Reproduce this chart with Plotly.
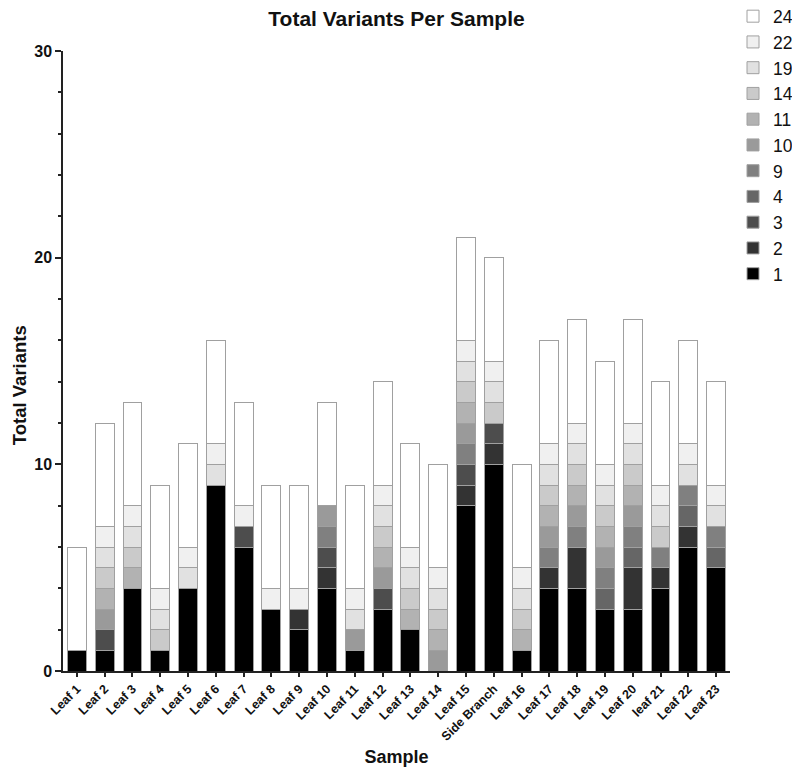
import plotly.graph_objects as go

samples = ["Leaf 1", "Leaf 2", "Leaf 3", "Leaf 4", "Leaf 5", "Leaf 6", "Leaf 7", "Leaf 8",
           "Leaf 9", "Leaf 10", "Leaf 11", "Leaf 12", "Leaf 13", "Leaf 14", "Leaf 15",
           "Side Branch", "Leaf 16", "Leaf 17", "Leaf 18", "Leaf 19", "Leaf 20", "leaf 21",
           "Leaf 22", "Leaf 23"]

s1 = [1, 1, 4, 1, 4, 9, 6, 3, 2, 4, 1, 3, 2, 0, 8, 10, 1, 4, 4, 3, 3, 4, 6, 5]
s2 = [0, 0, 0, 0, 0, 0, 0, 0, 1, 1, 0, 0, 0, 0, 1, 1, 0, 1, 2, 0, 2, 1, 1, 0]
s3 = [0, 1, 0, 0, 0, 0, 1, 0, 0, 1, 0, 1, 0, 0, 1, 1, 0, 0, 0, 0, 0, 0, 0, 0]
s4 = [0, 0, 0, 0, 0, 0, 0, 0, 0, 0, 0, 0, 0, 0, 0, 0, 0, 0, 0, 1, 1, 0, 1, 1]
s9 = [0, 0, 0, 0, 0, 0, 0, 0, 0, 1, 0, 0, 0, 0, 1, 0, 0, 1, 1, 1, 1, 1, 1, 1]
s10 = [0, 1, 0, 0, 0, 0, 0, 0, 0, 1, 1, 1, 0, 1, 1, 0, 0, 1, 1, 1, 1, 0, 0, 0]
s11 = [0, 1, 1, 0, 0, 0, 0, 0, 0, 0, 0, 1, 1, 1, 1, 0, 1, 1, 1, 1, 1, 0, 0, 0]
s14 = [0, 1, 1, 1, 0, 0, 0, 0, 0, 0, 0, 1, 1, 1, 1, 1, 1, 1, 1, 1, 1, 1, 0, 0]
s19 = [0, 1, 1, 1, 1, 1, 0, 0, 0, 0, 1, 1, 1, 1, 1, 1, 1, 1, 1, 1, 1, 1, 1, 1]
s22 = [0, 1, 1, 1, 1, 1, 1, 1, 1, 0, 1, 1, 1, 1, 1, 1, 1, 1, 1, 1, 1, 1, 1, 1]
s24 = [5, 5, 5, 5, 5, 5, 5, 5, 5, 5, 5, 5, 5, 5, 5, 5, 5, 5, 5, 5, 5, 5, 5, 5]

series_names = ["1", "2", "3", "4", "9", "10", "11", "14", "19", "22", "24"]
series_values = [s1, s2, s3, s4, s9, s10, s11, s14, s19, s22, s24]
series_colors = ["#000000", "#333333", "#4d4d4d", "#666666", "#808080", "#9a9a9a",
                 "#b2b2b2", "#cacaca", "#e1e1e1", "#f0f0f0", "#ffffff"]

fig = go.Figure()
for name, vals, col in zip(series_names, series_values, series_colors):
    fig.add_trace(go.Bar(
        x=samples, y=vals, name=name,
        marker=dict(color=col, line=dict(color="#a0a0a0", width=1)),
    ))

font_family = "Liberation Sans, Arial, sans-serif"

# the page body adds an 8px offset, so the figure is sized 792x762
fig.update_layout(
    barmode="stack",
    bargap=0.32,
    width=792, height=762,
    paper_bgcolor="white", plot_bgcolor="white",
    margin=dict(l=55, r=70, t=43, b=99, autoexpand=False),
    font=dict(family=font_family, color="#111111"),
    title=dict(text="<b>Total Variants Per Sample</b>", x=0.5, xref="paper",
               y=1 - 11 / 762, yanchor="middle", font=dict(size=21, color="#111111")),
    legend=dict(traceorder="reversed", x=1.0045, xanchor="left", y=1.085, yanchor="top",
                font=dict(size=17.5, color="#111111"), bgcolor="rgba(0,0,0,0)",
                itemclick=False),
    xaxis=dict(
        showline=True, linecolor="#222222", linewidth=1.5,
        ticks="outside", ticklen=4, tickcolor="#222222", tickwidth=1.5,
        tickangle=-45, tickfont=dict(size=12.5, weight="bold", color="#111111"),
        title=dict(text="<b>Sample</b>", font=dict(size=18), standoff=8),
        showgrid=False,
    ),
    yaxis=dict(
        range=[0, 30], dtick=10, showline=True, linecolor="#222222", linewidth=1.5,
        ticks="outside", ticklen=6, tickcolor="#222222", tickwidth=1.5,
        tickfont=dict(size=16, weight="bold", color="#111111"),
        minor=dict(dtick=2, ticks="outside", ticklen=3, tickcolor="#222222", tickwidth=1.5),
        showgrid=False, zeroline=False,
    ),
    annotations=[dict(
        text="<b>Total Variants</b>", textangle=-90, showarrow=False,
        xref="paper", yref="paper", x=-0.066, y=0.461,
        xanchor="center", yanchor="middle",
        font=dict(size=18.5, color="#111111"),
    )],
)

fig.write_html("out.html")
